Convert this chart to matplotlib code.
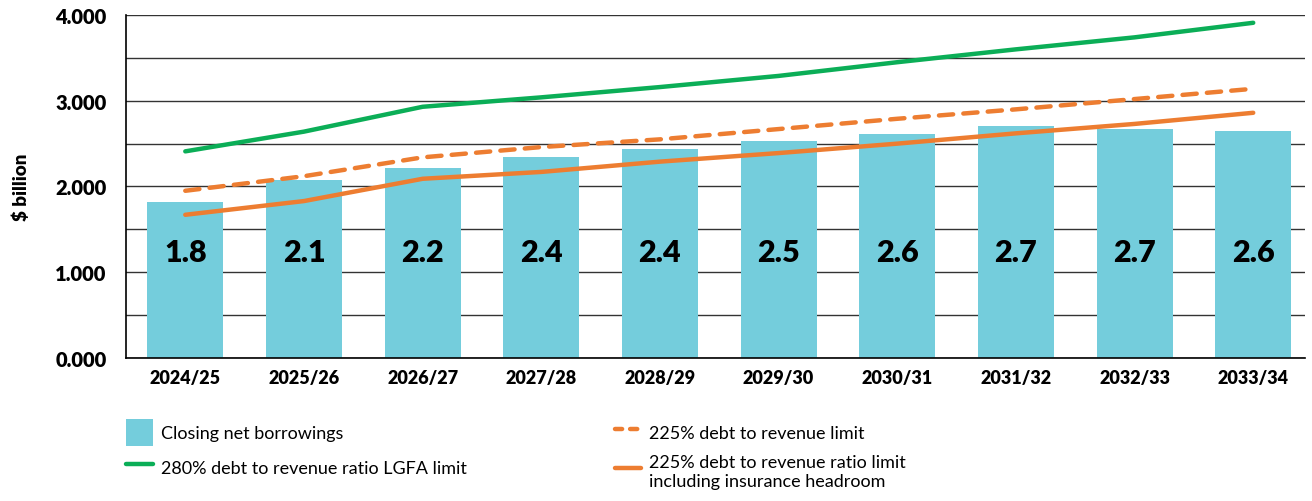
import matplotlib

matplotlib.use("Agg")

import matplotlib.pyplot as plt
from matplotlib.patches import Patch
from matplotlib.lines import Line2D
from matplotlib.ticker import MultipleLocator, FormatStrFormatter

plt.rcParams["font.family"] = ["Lato", "DejaVu Sans"]

years = ["2024/25", "2025/26", "2026/27", "2027/28", "2028/29",
         "2029/30", "2030/31", "2031/32", "2032/33", "2033/34"]
borrowings = [1.82, 2.08, 2.22, 2.34, 2.44, 2.53, 2.61, 2.71, 2.67, 2.65]
bar_labels = ["1.8", "2.1", "2.2", "2.4", "2.4", "2.5", "2.6", "2.7", "2.7", "2.6"]
lgfa_limit = [2.41, 2.64, 2.93, 3.04, 3.16, 3.29, 3.45, 3.60, 3.74, 3.91]
limit_225 = [1.95, 2.12, 2.34, 2.46, 2.55, 2.67, 2.79, 2.90, 3.02, 3.14]
limit_225_ins = [1.67, 1.83, 2.09, 2.17, 2.29, 2.39, 2.50, 2.62, 2.73, 2.86]

BAR_C = "#74CDDC"
GREEN = "#0BAE57"
ORANGE = "#ED7D31"

fig = plt.figure(figsize=(13.12, 5.02), dpi=100)
ax = fig.add_axes([0.096, 0.285, 0.899, 0.683])

x = list(range(len(years)))
ax.bar(x, borrowings, width=0.64, color=BAR_C, zorder=2)
for xi, lab in zip(x, bar_labels):
    ax.text(xi, 1.24, lab, ha="center", va="center", fontsize=22,
            fontweight="heavy", color="black", zorder=4)

ax.plot(x, lgfa_limit, color=GREEN, lw=3.2, solid_capstyle="round", zorder=3)
ax.plot(x, limit_225, color=ORANGE, lw=3.2, dashes=(3.2, 2.3),
        dash_capstyle="round", zorder=3)
ax.plot(x, limit_225_ins, color=ORANGE, lw=3.2, solid_capstyle="round", zorder=3)

ax.set_xlim(-0.5, 9.44)
ax.set_ylim(0, 4.0)
ax.yaxis.set_major_locator(MultipleLocator(1.0))
ax.yaxis.set_minor_locator(MultipleLocator(0.5))
ax.yaxis.set_major_formatter(FormatStrFormatter("%.3f"))
ax.grid(axis="y", which="both", color="#333333", lw=1.0, zorder=1)
ax.set_axisbelow(True)

ax.set_xticks(x)
ax.set_xticklabels(years, fontsize=13, fontweight="heavy")
for lab in ax.get_yticklabels():
    lab.set_fontweight("heavy")
    lab.set_fontsize(14.5)
ax.tick_params(axis="both", which="both", length=0)
ax.tick_params(axis="y", pad=14)
ax.tick_params(axis="x", pad=8)

for s in ["top", "right"]:
    ax.spines[s].set_visible(False)
ax.spines["left"].set_color("black")
ax.spines["bottom"].set_color("black")
ax.spines["left"].set_linewidth(1.2)
ax.spines["bottom"].set_linewidth(1.2)

ax.set_ylabel("\\$ billion", fontsize=13.5, fontweight="heavy", labelpad=18)

handles = [
    Patch(facecolor=BAR_C, edgecolor="none"),
    Line2D([], [], color=GREEN, lw=3.2, solid_capstyle="round"),
    Line2D([], [], color=ORANGE, lw=3.2, dashes=(1.6, 1.8), dash_capstyle="round"),
    Line2D([], [], color=ORANGE, lw=3.2, solid_capstyle="round"),
]
labels = [
    "Closing net borrowings",
    "280% debt to revenue ratio LGFA limit",
    "225% debt to revenue limit",
    "225% debt to revenue ratio limit\nincluding insurance headroom",
]
fig.legend(handles, labels, ncol=2, loc="upper left",
           bbox_to_anchor=(0.084, 0.195), frameon=False, fontsize=13,
           handlelength=1.45, handleheight=1.9, handletextpad=0.45,
           columnspacing=8.2, labelspacing=0.45)

fig.savefig("out.png", dpi=100)
